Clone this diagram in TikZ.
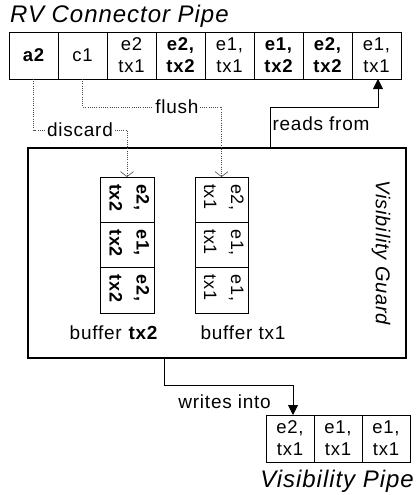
\documentclass[tikz,border=0pt]{standalone}
\usepackage{fontspec}
\setmainfont{Liberation Sans}[LetterSpace=4]
\usetikzlibrary{arrows.meta,calc}
\begin{document}
\begin{tikzpicture}[x=1pt,y=-1pt,
  cell/.style={draw,line width=0.9pt,minimum width=49pt,minimum height=47pt,inner sep=0pt,outer sep=0pt,anchor=north west,font=\fontsize{18.5}{22}\selectfont,align=center},
  bcell/.style={cell,font=\fontsize{18.5}{22}\selectfont\bfseries},
  vcell/.style={draw,line width=0.9pt,minimum width=54pt,minimum height=45.3pt,inner sep=0pt,outer sep=0pt,anchor=north west},
  rtxt/.style={rotate=-90,anchor=west,inner sep=0pt,font=\fontsize{18}{20}\selectfont},
  lbl/.style={font=\fontsize{19}{22}\selectfont,inner sep=1.5pt},
  ttl/.style={font=\fontsize{24}{26}\selectfont\itshape,inner sep=0pt},
  dotl/.style={line width=0.8pt,black!70,dash pattern=on 1pt off 1.2pt,-{Straight Barb[length=5pt,width=13pt,line width=0.6pt]}},
  rl/.style={line width=0.9pt,-{Triangle[length=10pt,width=10pt]}}
]
\useasboundingbox (0,0) rectangle (416,495);
% title
\node[ttl,anchor=base west] (title) at (10,23) {RV Connector Pipe};
% top pipe
\node[bcell] (p1) at (9,32) {a2};
\node[cell] (p2) at (58,32) {c1};
\node[cell] (p3) at (107,32) {e2\\tx1};
\node[bcell] (p4) at (156,32) {e2,\\tx2};
\node[cell] (p5) at (205,32) {e1,\\tx1};
\node[bcell] (p6) at (254,32) {e1,\\tx2};
\node[bcell] (p7) at (303,32) {e2,\\tx2};
\node[cell] (p8) at (352,32) {e1,\\tx1};
% guard
\node[draw,line width=1.2pt,minimum width=378pt,minimum height=210pt,inner sep=0pt,outer sep=0pt,anchor=north west] (guard) at (28,148) {};
\node[rotate=-90,font=\fontsize{20}{22}\selectfont\itshape] (gtxt) at (381,253) {Visibility Guard};
% buffer tx2
\node[vcell] (b2a) at (100,177) {};
\node[vcell] (b2b) at (100,222.3) {};
\node[vcell] (b2c) at (100,267.7) {};
\node[rtxt,font=\fontsize{18}{20}\selectfont\bfseries] (t2a) at ([yshift=-7pt]b2a.north) {\begin{tabular}{@{}l@{}}e2,\\[7pt]tx2\end{tabular}};
\node[rtxt,font=\fontsize{18}{20}\selectfont\bfseries] (t2b) at ([yshift=-7pt]b2b.north) {\begin{tabular}{@{}l@{}}e1,\\[7pt]tx2\end{tabular}};
\node[rtxt,font=\fontsize{18}{20}\selectfont\bfseries] (t2c) at ([yshift=-7pt]b2c.north) {\begin{tabular}{@{}l@{}}e2,\\[7pt]tx2\end{tabular}};
% buffer tx1
\node[vcell,minimum width=53pt] (b1a) at (195,177) {};
\node[vcell,minimum width=53pt] (b1b) at (195,222.3) {};
\node[vcell,minimum width=53pt] (b1c) at (195,267.7) {};
\node[rtxt] (t1a) at ([yshift=-7pt]b1a.north) {\begin{tabular}{@{}l@{}}e2,\\[7pt]tx1\end{tabular}};
\node[rtxt] (t1b) at ([yshift=-7pt]b1b.north) {\begin{tabular}{@{}l@{}}e1,\\[7pt]tx1\end{tabular}};
\node[rtxt] (t1c) at ([yshift=-7pt]b1c.north) {\begin{tabular}{@{}l@{}}e1,\\[7pt]tx1\end{tabular}};
\node[lbl] (bl2) at (114,333) {buffer \textbf{tx2}};
\node[lbl] (bl1) at (243,333) {buffer tx1};
% visibility pipe
\node[cell,minimum width=48pt] (v1) at (266,415) {e2,\\tx1};
\node[cell,minimum width=48pt] (v2) at (314,415) {e1,\\tx1};
\node[cell,minimum width=48pt] (v3) at (362,415) {e1,\\tx1};
\node[ttl,anchor=base east] (vtitle) at (414,487) {Visibility Pipe};
% connectors
\draw[dotl] (p1.south) -- ++(0,51) -| (b2a.north);
\draw[dotl] (p2.south) -- ++(0,28) -| (b1a.north);
\node[lbl,fill=white] (ldiscard) at (80,130) {discard};
\node[lbl,fill=white] (lflush) at (177,107) {flush};
\draw[rl] ([xshift=53pt]guard.north) -- ++(0,-41) -| ([xshift=1.5pt]p8.south);
\node[lbl,fill=white] (lreads) at (321,124) {reads from};
\draw[rl] ([xshift=-53pt]guard.south) -- ++(0,27) -| ([xshift=3pt]v1.north);
\node[lbl,fill=white,inner xsep=4pt,inner ysep=6pt,anchor=base east] (lwrites) at (275,408) {writes into};
\end{tikzpicture}
\end{document}
